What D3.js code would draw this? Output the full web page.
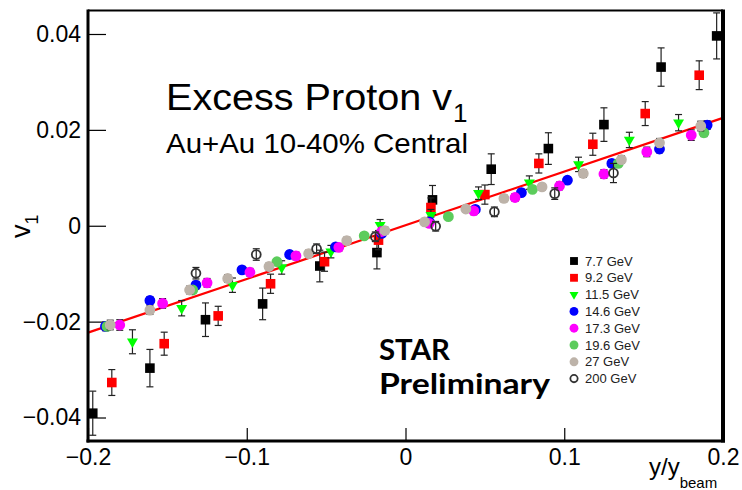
<!DOCTYPE html>
<html>
<head>
<meta charset="utf-8">
<script src="https://cdn.jsdelivr.net/npm/d3@7"></script>
<style>
  body { margin: 0; background: #fff; }
  svg { display: block; font-family: "Liberation Sans", Arial, sans-serif; }
</style>
</head>
<body>
<svg id="chart" width="742" height="490"></svg>
<script>
// values: y/y_beam, v1, stat. error
const x77 = [-0.197, -0.161, -0.126, -0.090, -0.054, -0.018, 0.017, 0.054, 0.090, 0.125, 0.161, 0.196];
const v77 = [-0.0391, -0.0297, -0.0196, -0.0163, -0.0084, -0.0056, 0.0054, 0.0118, 0.0161, 0.0211, 0.0331, 0.0396];
const e77 = [0.0046, 0.0039, 0.0035, 0.0033, 0.0033, 0.0034, 0.0030, 0.0032, 0.0033, 0.0035, 0.0040, 0.0048];

const x92 = [-0.185, -0.152, -0.118, -0.085, -0.051, -0.017, 0.016, 0.050, 0.084, 0.118, 0.151, 0.185];
const v92 = [-0.0327, -0.0246, -0.0188, -0.0121, -0.0075, -0.0030, 0.0038, 0.0065, 0.0130, 0.0170, 0.0234, 0.0314];
const e92 = [0.0027, 0.0024, 0.0020, 0.0020, 0.0020, 0.0020, 0.0020, 0.0020, 0.0020, 0.0023, 0.0025, 0.0030];

const x115 = [-0.172, -0.141, -0.109, -0.078, -0.047, -0.016, 0.016, 0.046, 0.078, 0.109, 0.141, 0.172];
const v115 = [-0.0242, -0.0172, -0.0124, -0.0087, -0.0054, 0.0001, 0.0022, 0.0068, 0.0090, 0.0128, 0.0179, 0.0215];
const e115 = [0.0025, 0.0016, 0.0015, 0.0014, 0.0013, 0.0012, 0.0012, 0.0013, 0.0014, 0.0015, 0.0016, 0.0017];

const x146 = [-0.189, -0.161, -0.132, -0.103, -0.073, -0.044, -0.015, 0.015, 0.044, 0.073, 0.102, 0.130, 0.160, 0.190];
const v146 = [-0.0210, -0.0156, -0.0124, -0.0092, -0.0060, -0.0044, -0.0016, 0.0008, 0.0034, 0.0069, 0.0095, 0.0130, 0.0160, 0.0210];
const e146 = [0.0009, 0.0008, 0.0008, 0.0007, 0.0007, 0.0007, 0.0007, 0.0007, 0.0007, 0.0007, 0.0007, 0.0008, 0.0008, 0.0009];

const x173 = [-0.180, -0.153, -0.125, -0.098, -0.069, -0.042, -0.015, 0.015, 0.043, 0.069, 0.097, 0.125, 0.152, 0.180];
const v173 = [-0.0207, -0.0162, -0.0119, -0.0097, -0.0063, -0.0045, -0.0012, 0.0005, 0.0031, 0.0059, 0.0083, 0.0108, 0.0154, 0.0189];
const e173 = [0.0011, 0.0010, 0.0009, 0.0008, 0.0008, 0.0008, 0.0008, 0.0008, 0.0008, 0.0008, 0.0008, 0.0009, 0.0010, 0.0011];

const x196 = [-0.188, -0.134, -0.081, -0.026, 0.027, 0.080, 0.134, 0.188];
const v196 = [-0.0210, -0.0134, -0.0075, -0.0021, 0.0019, 0.0076, 0.0130, 0.0194];
const e196 = [0.0008, 0.0007, 0.0006, 0.0006, 0.0006, 0.0006, 0.0007, 0.0008];

const x27 = [-0.186, -0.161, -0.136, -0.112, -0.086, -0.061, -0.037, -0.013, 0.012, 0.038, 0.062, 0.086, 0.112, 0.136, 0.160, 0.186];
const v27 = [-0.0207, -0.0176, -0.0134, -0.0110, -0.0085, -0.0058, -0.0031, -0.0010, 0.0008, 0.0035, 0.0057, 0.0081, 0.0109, 0.0138, 0.0173, 0.0208];
const e27 = [0.0010, 0.0009, 0.0008, 0.0008, 0.0007, 0.0007, 0.0007, 0.0007, 0.0007, 0.0007, 0.0007, 0.0007, 0.0008, 0.0008, 0.0009, 0.0010];

const x200 = [-0.132, -0.094, -0.056, -0.019, 0.019, 0.056, 0.094, 0.131];
const v200 = [-0.0099, -0.0060, -0.0048, -0.0023, -0.0001, 0.0029, 0.0067, 0.0110];
const e200 = [0.0012, 0.0012, 0.0010, 0.0010, 0.0010, 0.0010, 0.0012, 0.0020];

// red fit line end points
const fitX = [-0.2, 0.2];
const fitV = [-0.0223, 0.0225];

const energies = ['7.7 GeV', '9.2 GeV', '11.5 GeV', '14.6 GeV', '17.3 GeV', '19.6 GeV', '27 GeV', '200 GeV'];
const xTicks = [-0.2, -0.1, 0, 0.1, 0.2];
const yTicks = [-0.04, -0.02, 0, 0.02, 0.04];

const series = [
  { x: x77,  v: v77,  e: e77,  shape: 'square',   fill: '#000000' },
  { x: x92,  v: v92,  e: e92,  shape: 'square',   fill: '#ff0000' },
  { x: x115, v: v115, e: e115, shape: 'triangle', fill: '#00ff00' },
  { x: x146, v: v146, e: e146, shape: 'circle',   fill: '#0000ff' },
  { x: x173, v: v173, e: e173, shape: 'circle',   fill: '#ff00ff' },
  { x: x196, v: v196, e: e196, shape: 'circle',   fill: '#5ccc5c' },
  { x: x27,  v: v27,  e: e27,  shape: 'circle',   fill: '#bdb3a9' },
  { x: x200, v: v200, e: e200, shape: 'open',     fill: 'none' }
];

const svg = d3.select('#chart');
const padL = 88, padR = 723, padT = 10.5, padB = 441;

const x = d3.scaleLinear().domain([-0.2, 0.2]).range([padL, padR]);
const y = d3.scaleLinear().domain([-0.0449, 0.0449]).range([padB, padT]);

// axes (ticks point inward like ROOT)
const fmtY = d => d === 0 ? '0' : d3.format('.2f')(d);
const fmtX = d => d === 0 ? '0' : d3.format('.1f')(d);

const yAxis = svg.append('g')
  .attr('transform', `translate(${padL},0)`)
  .call(d3.axisLeft(y).tickValues(yTicks).tickFormat(fmtY).tickSize(-18).tickPadding(7));
const xAxis = svg.append('g')
  .attr('transform', `translate(0,${padB})`)
  .call(d3.axisBottom(x).tickValues(xTicks).tickFormat(fmtX).tickSize(-13).tickPadding(8));

[yAxis, xAxis].forEach(g => {
  g.select('.domain').remove();
  g.selectAll('line').attr('stroke', '#000').attr('stroke-width', 1.2);
  g.selectAll('text').attr('fill', '#000').style('font-size', '23px')
    .style('font-family', '"Liberation Sans", Arial, sans-serif');
});

// fit line
const line = d3.line().x(d => x(d[0])).y(d => y(d[1]));
svg.append('path')
  .datum(d3.zip(fitX, fitV))
  .attr('d', line)
  .attr('fill', 'none')
  .attr('stroke', '#ff0000')
  .attr('stroke-width', 2.2);

function markerPath(shape, scale) {
  const k = scale || 1;
  if (shape === 'square') return d3.symbol(d3.symbolSquare, 92 * k * k)();
  if (shape === 'triangle') return d3.symbol(d3.symbolTriangle, 52 * k * k)();
  if (shape === 'open') return d3.symbol(d3.symbolCircle, 62 * k * k)();
  return d3.symbol(d3.symbolCircle, 92 * k * k)();
}

function styleMarker(sel, s) {
  sel.attr('fill', s.fill)
    .attr('stroke', s.shape === 'open' ? '#333' : 'none')
    .attr('stroke-width', s.shape === 'open' ? 1.8 : 0);
}

series.forEach(s => {
  const pts = d3.zip(s.x, s.v, s.e);
  const g = svg.append('g');
  const eb = g.append('g').attr('stroke', '#222').attr('stroke-width', 1.2);
  eb.selectAll('line.bar').data(pts).join('line')
    .attr('class', 'bar')
    .attr('x1', d => x(d[0])).attr('x2', d => x(d[0]))
    .attr('y1', d => y(d[1] - d[2])).attr('y2', d => y(d[1] + d[2]));
  eb.selectAll('line.capT').data(pts).join('line')
    .attr('class', 'capT')
    .attr('x1', d => x(d[0]) - 3.5).attr('x2', d => x(d[0]) + 3.5)
    .attr('y1', d => y(d[1] + d[2])).attr('y2', d => y(d[1] + d[2]));
  eb.selectAll('line.capB').data(pts).join('line')
    .attr('class', 'capB')
    .attr('x1', d => x(d[0]) - 3.5).attr('x2', d => x(d[0]) + 3.5)
    .attr('y1', d => y(d[1] - d[2])).attr('y2', d => y(d[1] - d[2]));

  g.selectAll('path.m').data(pts).join('path')
    .attr('class', 'm')
    .attr('d', markerPath(s.shape))
    .attr('transform', d => `translate(${x(d[0])},${y(d[1])})` + (s.shape === 'triangle' ? ' rotate(180)' : ''))
    .call(styleMarker, s);
});

// frame
svg.append('line').attr('x1', padL).attr('x2', padL).attr('y1', padT - 1).attr('y2', padB + 1.5)
  .attr('stroke', '#000').attr('stroke-width', 3);
svg.append('line').attr('x1', padL - 1.5).attr('x2', padR + 2).attr('y1', padB).attr('y2', padB)
  .attr('stroke', '#000').attr('stroke-width', 3);
svg.append('line').attr('x1', padR).attr('x2', padR).attr('y1', padT - 1).attr('y2', padB + 1.5)
  .attr('stroke', '#000').attr('stroke-width', 4);
svg.append('line').attr('x1', padL).attr('x2', padR).attr('y1', padT).attr('y2', padT)
  .attr('stroke', '#000').attr('stroke-width', 2.2);

// legend
const legend = svg.append('g').attr('transform', 'translate(574,261)');
energies.forEach((label, i) => {
  const s = series[i];
  const row = legend.append('g').attr('transform', `translate(0,${i * 16.8})`);
  row.append('path')
    .attr('d', markerPath(s.shape, 0.82))
    .attr('transform', s.shape === 'triangle' ? 'rotate(180)' : null)
    .call(styleMarker, s);
  row.append('text')
    .attr('x', 11).attr('y', 4.6)
    .style('font-size', '13px')
    .attr('fill', '#222')
    .text(label);
});

// titles
svg.append('text')
  .attr('x', 166).attr('y', 110)
  .style('font-size', '37px')
  .attr('textLength', 286).attr('lengthAdjust', 'spacingAndGlyphs')
  .text('Excess Proton v');
svg.append('text')
  .attr('x', 453).attr('y', 122)
  .style('font-size', '26px')
  .text('1');
svg.append('text')
  .attr('x', 166).attr('y', 153)
  .style('font-size', '28px')
  .attr('textLength', 302).attr('lengthAdjust', 'spacingAndGlyphs')
  .text('Au+Au 10-40% Central');

svg.append('text')
  .attr('x', 379).attr('y', 360)
  .style('font-family', 'Lato, "Open Sans", sans-serif')
  .style('font-weight', 'bold').style('font-size', '28px')
  .attr('textLength', 71).attr('lengthAdjust', 'spacingAndGlyphs')
  .text('STAR');
svg.append('text')
  .attr('x', 379).attr('y', 394)
  .style('font-family', 'Lato, "Open Sans", sans-serif')
  .style('font-weight', 'bold').style('font-size', '28px')
  .attr('textLength', 171).attr('lengthAdjust', 'spacingAndGlyphs')
  .text('Preliminary');

// axis titles
const yl = svg.append('text')
  .attr('transform', 'translate(30,238) rotate(-90)')
  .style('font-size', '27px');
yl.append('tspan').text('v');
yl.append('tspan').attr('dy', 8).style('font-size', '18px').text('1');

const xl = svg.append('text')
  .attr('x', 649).attr('y', 475)
  .style('font-size', '24px');
xl.append('tspan').text('y/y');
xl.append('tspan').attr('dy', 13).style('font-size', '15px').text('beam');
</script>
</body>
</html>
